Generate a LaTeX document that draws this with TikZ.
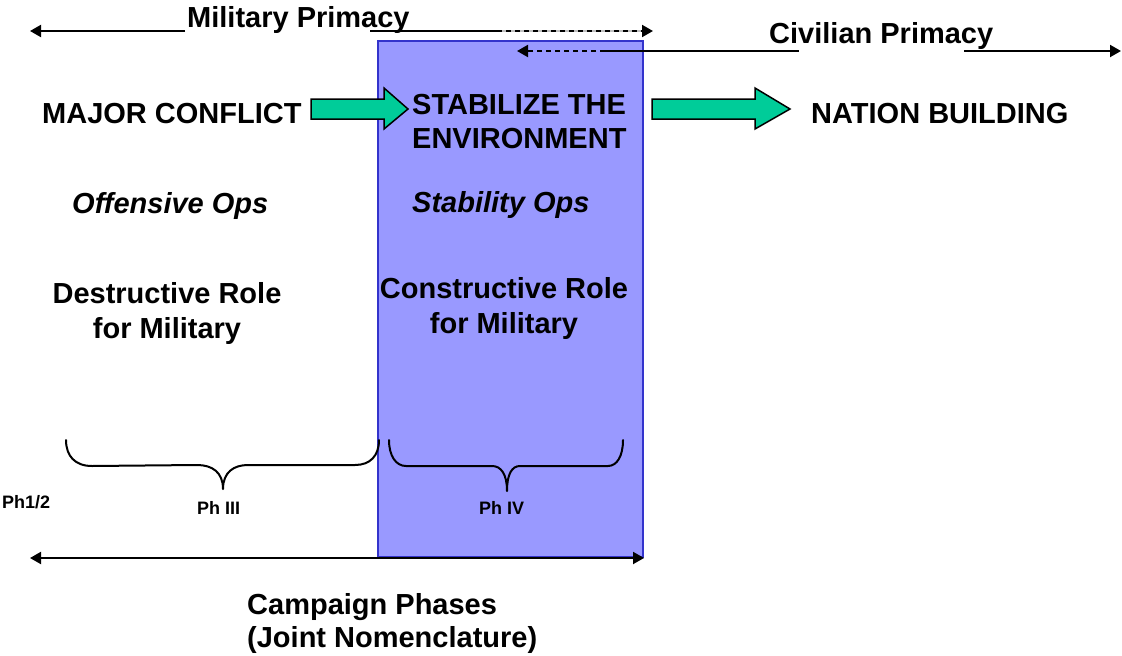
\documentclass[tikz,border=0pt]{standalone}
\usepackage{fontspec}
\setmainfont{Liberation Sans}
\usetikzlibrary{arrows.meta}
\definecolor{boxfill}{HTML}{9999FF}
\definecolor{boxline}{HTML}{3333CC}
\definecolor{arrgreen}{HTML}{00CC99}
\begin{document}
\begin{tikzpicture}[x=1pt,y=-1pt,
  >={Triangle[length=11pt,width=12pt]},
  big/.style={font=\fontsize{29}{35}\selectfont\bfseries, inner sep=0pt, anchor=base west},
  bigit/.style={font=\fontsize{29}{35}\selectfont\bfseries\itshape, inner sep=0pt, anchor=base west},
  small/.style={font=\fontsize{18}{21}\selectfont\bfseries, inner sep=0pt, anchor=base west},
  blk/.style={line width=2pt, black},
  dashblk/.style={line width=2pt, black, dash pattern=on 5pt off 4pt},
  underlay/.style={line width=2pt, black!25},
  phasebox/.style={draw=boxline, fill=boxfill, line width=2pt, inner sep=0pt, outer sep=0pt},
  bigarrow/.style={draw=black, fill=arrgreen, line width=1.5pt, line join=miter},
  bracestyle/.style={line width=2pt, black, line cap=round, line join=round}
]
\useasboundingbox (0,0) rectangle (1122,656);

% phase box
\node[phasebox, minimum width=265pt, minimum height=516pt, anchor=north west] (box) at (378,41) {};

% top labels and primacy arrows
\node[big] (mil) at (187,27) {Military Primacy};
\node[big] (civ) at (769,43) {Civilian Primacy};

\coordinate (mL) at (30,31);
\coordinate (mA) at (185,31);
\coordinate (mB) at (370,31);
\coordinate (mC) at (497,31);
\coordinate (mG) at (642,31);
\coordinate (mR) at (653,31);
\draw[blk,->] (mA) -- (mL);
\draw[blk] (mB) -- (mC);
\draw[underlay] (mC) -- (mG);
\draw[dashblk,->] (mC) -- (mR);

\coordinate (cL) at (517,51);
\coordinate (cA) at (605,51);
\coordinate (cB) at (799,51);
\coordinate (cC) at (964,51);
\coordinate (cR) at (1121,51);
\draw[dashblk,->] (cA) -- (cL);
\draw[blk] (cA) -- (cB);
\draw[blk,->] (cC) -- (cR);

% main row
\node[big] (major) at (42,123) {MAJOR CONFLICT};
\node[big] (stab) at (412,114) {\fontsize{29}{34}\selectfont\begin{tabular}[t]{@{}l@{}}STABILIZE THE\\ENVIRONMENT\end{tabular}};
\node[big] (nation) at (811,123) {NATION BUILDING};

\draw[bigarrow] (311,99) -- (384,99) -- (384,88) -- (408,109) -- (384,129) -- (384,119) -- (311,119) -- cycle;
\draw[bigarrow] (652,99) -- (755,99) -- (755,88) -- (790,109) -- (755,129) -- (755,119) -- (652,119) -- cycle;

% ops
\node[bigit] (off) at (72,213) {Offensive Ops};
\node[bigit] (stabops) at (412,212) {Stability Ops};

% roles
\node[big, anchor=base] (destr) at (167,303) {\begin{tabular}[t]{@{}c@{}}Destructive Role\\for Military\end{tabular}};
\node[big, anchor=base] (constr) at (504,298) {\begin{tabular}[t]{@{}c@{}}Constructive Role\\for Military\end{tabular}};

% braces
\draw[bracestyle] (66,440) .. controls (66,456) and (75,466) .. (92,466) -- (197,465)
  .. controls (212,465) and (223,472) .. (223,489)
  .. controls (223,472) and (234,465) .. (248,465) -- (355,465)
  .. controls (370,465) and (379,456) .. (379,440);
\draw[bracestyle] (389,440) .. controls (389,456) and (396,466) .. (406,466) -- (492,466)
  .. controls (501,466) and (507,474) .. (507,491)
  .. controls (507,474) and (512,466) .. (520,466) -- (608,466)
  .. controls (617,466) and (623,456) .. (623,440);

% phase labels
\node[small] (ph12) at (2,508) {Ph1/2};
\node[small] (ph3) at (197,514) {Ph III};
\node[small] (ph4) at (479,514) {Ph IV};

% campaign arrow
\coordinate (bL) at (30,558);
\coordinate (bR) at (644,558);
\draw[blk,<->] (bL) -- (bR);

\node[big] (camp) at (247,614) {\fontsize{29}{33}\selectfont\begin{tabular}[t]{@{}l@{}}Campaign Phases\\(Joint Nomenclature)\end{tabular}};
\end{tikzpicture}
\end{document}
